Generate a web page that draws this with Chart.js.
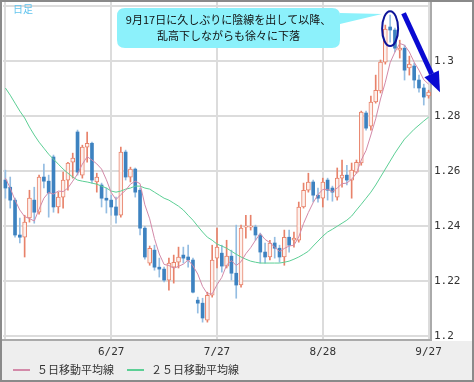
<!DOCTYPE html>
<html><head><meta charset="utf-8">
<script src="https://cdn.jsdelivr.net/npm/chart.js@4.4.0/dist/chart.umd.min.js"></script>
<style>html,body{margin:0;padding:0;background:#fff;overflow:hidden}#wrap{width:474px;height:382px;position:relative}</style>
</head><body><div id="wrap"><canvas id="c" width="474" height="382"></canvas></div>
<script>
const dates = ['5/28','5/29','5/30','5/31','6/1','6/4','6/5','6/6','6/7','6/8','6/11','6/12','6/13','6/14','6/15','6/18','6/19','6/20','6/21','6/22','6/25','6/26','6/27','6/28','6/29','7/2','7/3','7/4','7/5','7/6','7/9','7/10','7/11','7/12','7/13','7/16','7/17','7/18','7/19','7/20','7/23','7/24','7/25','7/26','7/27','7/30','7/31','8/1','8/2','8/3','8/6','8/7','8/8','8/9','8/10','8/13','8/14','8/15','8/16','8/17','8/20','8/21','8/22','8/23','8/24','8/27','8/28','8/29','8/30','8/31','9/3','9/4','9/5','9/6','9/7','9/10','9/11','9/12','9/13','9/14','9/17','9/18','9/19','9/20','9/21','9/24','9/25','9/26','9/27'];
const open = [1.2567,1.2541,1.2494,1.2367,1.2359,1.2429,1.2494,1.2450,1.2578,1.2563,
1.2651,1.2469,1.2505,1.2567,1.2632,1.2742,1.2585,1.2687,1.2701,1.2560,
1.2549,1.2501,1.2494,1.2469,1.2439,1.2669,1.2578,1.2607,1.2530,1.2392,
1.2265,1.2312,1.2250,1.2243,1.2203,1.2250,1.2268,1.2294,1.2287,1.2276,
1.2130,1.2119,1.2057,1.2148,1.2283,1.2301,1.2254,1.2290,1.2228,1.2185,
1.2396,1.2396,1.2396,1.2367,1.2305,1.2287,1.2338,1.2319,1.2287,1.2359,
1.2348,1.2348,1.2469,1.2530,1.2560,1.2512,1.2501,1.2567,1.2538,1.2505,
1.2574,1.2585,1.2567,1.2596,1.2629,1.2811,1.2763,1.2851,1.2891,1.2996,
1.3124,1.3113,1.3040,1.3047,1.2975,1.2982,1.2931,1.2902,1.2873];
const high = [1.2603,1.2578,1.2501,1.2429,1.2439,1.2530,1.2541,1.2585,1.2625,1.2585,
1.2658,1.2523,1.2596,1.2632,1.2665,1.2749,1.2694,1.2742,1.2705,1.2592,
1.2556,1.2538,1.2512,1.2505,1.2687,1.2676,1.2614,1.2611,1.2538,1.2399,
1.2327,1.2330,1.2283,1.2250,1.2283,1.2294,1.2323,1.2323,1.2330,1.2283,
1.2141,1.2137,1.2159,1.2330,1.2392,1.2330,1.2348,1.2312,1.2403,1.2403,
1.2439,1.2439,1.2403,1.2374,1.2338,1.2348,1.2359,1.2330,1.2385,1.2385,
1.2378,1.2487,1.2556,1.2592,1.2567,1.2538,1.2574,1.2574,1.2545,1.2611,
1.2640,1.2621,1.2629,1.2640,1.2818,1.2818,1.2873,1.2949,1.3004,1.3131,
1.3167,1.3120,1.3076,1.3058,1.3018,1.2993,1.2949,1.2916,1.2894];
const low = [1.2501,1.2465,1.2359,1.2338,1.2287,1.2414,1.2410,1.2443,1.2538,1.2432,
1.2450,1.2447,1.2465,1.2530,1.2574,1.2585,1.2574,1.2632,1.2556,1.2523,
1.2469,1.2447,1.2439,1.2410,1.2432,1.2567,1.2560,1.2505,1.2367,1.2279,
1.2257,1.2239,1.2214,1.2196,1.2166,1.2192,1.2247,1.2265,1.2250,1.2156,
1.2083,1.2050,1.2050,1.2141,1.2247,1.2232,1.2247,1.2203,1.2137,1.2177,
1.2356,1.2385,1.2348,1.2265,1.2265,1.2276,1.2283,1.2268,1.2257,1.2305,
1.2323,1.2341,1.2465,1.2523,1.2487,1.2487,1.2469,1.2494,1.2490,1.2494,
1.2541,1.2549,1.2501,1.2592,1.2621,1.2749,1.2749,1.2847,1.2884,1.2989,
1.3069,1.3033,1.3011,1.2931,1.2949,1.2902,1.2887,1.2840,1.2865];
const close = [1.2538,1.2494,1.2367,1.2359,1.2414,1.2501,1.2450,1.2578,1.2563,1.2520,
1.2469,1.2505,1.2567,1.2629,1.2647,1.2596,1.2687,1.2701,1.2567,1.2578,
1.2501,1.2494,1.2469,1.2439,1.2669,1.2578,1.2607,1.2523,1.2392,1.2287,
1.2319,1.2250,1.2243,1.2203,1.2265,1.2268,1.2287,1.2283,1.2276,1.2159,
1.2119,1.2065,1.2148,1.2276,1.2323,1.2254,1.2290,1.2228,1.2185,1.2392,
1.2399,1.2399,1.2367,1.2305,1.2287,1.2338,1.2319,1.2287,1.2359,1.2330,
1.2356,1.2469,1.2530,1.2560,1.2512,1.2501,1.2560,1.2530,1.2523,1.2574,
1.2585,1.2567,1.2603,1.2632,1.2814,1.2756,1.2851,1.2894,1.2996,1.3116,
1.3113,1.3047,1.3047,1.2967,1.2989,1.2931,1.2902,1.2869,1.2887];
const ma5 = [1.2574,1.2538,1.2494,1.2458,1.2434,1.2427,1.2418,1.2461,1.2501,1.2522,
1.2516,1.2527,1.2525,1.2538,1.2563,1.2589,1.2625,1.2652,1.2640,1.2626,
1.2607,1.2568,1.2522,1.2496,1.2514,1.2530,1.2552,1.2563,1.2554,1.2477,
1.2426,1.2354,1.2298,1.2260,1.2256,1.2246,1.2253,1.2261,1.2276,1.2255,
1.2225,1.2180,1.2153,1.2153,1.2186,1.2213,1.2258,1.2274,1.2256,1.2270,
1.2299,1.2321,1.2348,1.2372,1.2351,1.2339,1.2323,1.2307,1.2318,1.2327,
1.2330,1.2360,1.2409,1.2449,1.2485,1.2514,1.2533,1.2533,1.2525,1.2538,
1.2554,1.2556,1.2570,1.2592,1.2640,1.2675,1.2731,1.2790,1.2862,1.2923,
1.2994,1.3033,1.3064,1.3058,1.3033,1.2996,1.2967,1.2932,1.2916];
const ma25 = [1.2902,1.2876,1.2847,1.2818,1.2793,1.2760,1.2731,1.2705,1.2683,1.2661,
1.2643,1.2625,1.2607,1.2592,1.2578,1.2567,1.2563,1.2560,1.2556,1.2552,
1.2545,1.2538,1.2527,1.2523,1.2527,1.2534,1.2538,1.2545,1.2545,1.2538,
1.2534,1.2523,1.2512,1.2501,1.2494,1.2483,1.2472,1.2458,1.2439,1.2421,
1.2399,1.2378,1.2359,1.2348,1.2334,1.2327,1.2319,1.2308,1.2297,1.2287,
1.2279,1.2272,1.2268,1.2265,1.2265,1.2265,1.2265,1.2265,1.2268,1.2272,
1.2279,1.2287,1.2297,1.2308,1.2327,1.2345,1.2363,1.2378,1.2388,1.2399,
1.2410,1.2421,1.2436,1.2458,1.2479,1.2501,1.2523,1.2549,1.2578,1.2607,
1.2636,1.2665,1.2691,1.2716,1.2734,1.2752,1.2767,1.2782,1.2796];
const tickLabels = ['6/27','7/27','8/28','9/27'];
const gridDates = ['5/28','6/27','7/27','8/28','9/27'];
const seriesNames = ['５日移動平均線','２５日移動平均線'];
const noteLines = ['9月17日に久しぶりに陰線を出して以降、','乱高下しながらも徐々に下落'];
const noteDate = '9/17';
const periodLabel = '日足';

const UP = '#e8826a', UP_FILL = '#fdf1ed', DOWN = '#3d82c0', DOWN_WICK = '#94bde2';
const up = i => close[i] >= open[i];
const MONO = '"DejaVu Sans Mono", monospace';
const JP = '"Noto Sans CJK JP", sans-serif';

const bgPlugin = {
  id: 'bg',
  beforeDraw(chart) {
    const {ctx, chartArea} = chart;
    ctx.save();
    ctx.fillStyle = '#ffffff';
    ctx.fillRect(0, 0, chart.width, chart.height);
    ctx.fillStyle = '#eeeeee';
    ctx.fillRect(0, chartArea.bottom + 1, chart.width, chart.height - chartArea.bottom);
    ctx.restore();
  },
  afterDraw(chart) {
    const {ctx} = chart;
    ctx.save();
    // legend for the two moving-average lines
    ctx.font = '11px ' + JP;
    ctx.textAlign = 'left';
    ctx.textBaseline = 'middle';
    const legendX = [13, 127];
    [0, 1].forEach((d, n) => {
      const ds = chart.data.datasets[d];
      const x = legendX[n], y = 370;
      ctx.strokeStyle = ds.borderColor;
      ctx.lineWidth = 2;
      ctx.beginPath();
      ctx.moveTo(x, y);
      ctx.lineTo(x + 17, y);
      ctx.stroke();
      ctx.fillStyle = '#333';
      ctx.fillText(ds.label, x + 24, y);
    });
    ctx.strokeStyle = '#8a8a8a';
    ctx.lineWidth = 2;
    ctx.strokeRect(1, 1, chart.width - 2, chart.height - 2);
    ctx.restore();
  }
};

const notePlugin = {
  id: 'note',
  afterDraw(chart) {
    const {ctx} = chart;
    const xs = chart.scales.x, ys = chart.scales.y;
    ctx.save();
    ctx.fillStyle = '#62c4ee';
    ctx.font = '10px ' + JP;
    ctx.textBaseline = 'middle';
    ctx.textAlign = 'left';
    ctx.fillText(periodLabel, 13, 9);
    const bx = 117, by = 8, bw = 223, bh = 40, r = 8;
    ctx.fillStyle = '#8cf1fb';
    ctx.beginPath();
    ctx.moveTo(bx + r, by);
    ctx.lineTo(bx + bw - r, by);
    ctx.quadraticCurveTo(bx + bw, by, bx + bw, by + r);
    ctx.lineTo(bx + bw, by + 5);
    ctx.lineTo(382, 14);
    ctx.lineTo(bx + bw, by + 16);
    ctx.lineTo(bx + bw, by + bh - r);
    ctx.quadraticCurveTo(bx + bw, by + bh, bx + bw - r, by + bh);
    ctx.lineTo(bx + r, by + bh);
    ctx.quadraticCurveTo(bx, by + bh, bx, by + bh - r);
    ctx.lineTo(bx, by + r);
    ctx.quadraticCurveTo(bx, by, bx + r, by);
    ctx.closePath();
    ctx.fill();
    ctx.fillStyle = '#111';
    ctx.font = '11px ' + JP;
    ctx.textAlign = 'center';
    ctx.fillText(noteLines[0], bx + bw / 2, 20);
    ctx.fillText(noteLines[1], bx + bw / 2, 36);
    const k = dates.indexOf(noteDate);
    const cx = xs.getPixelForValue(k);
    const yh = ys.getPixelForValue(high[k]), yl = ys.getPixelForValue(low[k]);
    ctx.strokeStyle = '#0c1499';
    ctx.lineWidth = 2;
    ctx.beginPath();
    ctx.ellipse(cx, (yh + yl) / 2, 8, (yl - yh) / 2 + 4, 0, 0, Math.PI * 2);
    ctx.stroke();
    const x0 = xs.getPixelForValue(k + 3) - 1, y0 = ys.getPixelForValue(high[k]) - 2;
    const x1 = chart.chartArea.right + 9, y1 = ys.getPixelForValue(close[close.length - 1]);
    const ang = Math.atan2(y1 - y0, x1 - x0);
    const hl = 20, hw = 8;
    const bxh = x1 - hl * Math.cos(ang), byh = y1 - hl * Math.sin(ang);
    ctx.strokeStyle = '#0a0ad2';
    ctx.fillStyle = '#0a0ad2';
    ctx.lineWidth = 5;
    ctx.beginPath();
    ctx.moveTo(x0, y0);
    ctx.lineTo(bxh, byh);
    ctx.stroke();
    ctx.beginPath();
    ctx.moveTo(x1, y1);
    ctx.lineTo(bxh + hw * Math.sin(ang), byh - hw * Math.cos(ang));
    ctx.lineTo(bxh - hw * Math.sin(ang), byh + hw * Math.cos(ang));
    ctx.closePath();
    ctx.fill();
    ctx.restore();
  }
};

new Chart(document.getElementById('c'), {
  type: 'bar',
  data: {
    labels: dates,
    datasets: [
      {type: 'line', label: seriesNames[0], data: ma5, borderColor: '#d38aa9', backgroundColor: '#d38aa9', borderWidth: 1, pointRadius: 0, tension: 0, order: 0},
      {type: 'line', label: seriesNames[1], data: ma25, borderColor: '#5ccf95', backgroundColor: '#5ccf95', borderWidth: 1, pointRadius: 0, tension: 0, order: 0},
      {label: 'up', data: open.map((o, i) => up(i) ? [o, close[i]] : null), backgroundColor: UP_FILL, borderColor: UP, borderWidth: 1, borderSkipped: false, barThickness: 4, minBarLength: 1, grouped: false, order: 1},
      {label: 'down', data: open.map((o, i) => up(i) ? null : [o, close[i]]), backgroundColor: DOWN, borderWidth: 0, barThickness: 3, minBarLength: 1, grouped: false, order: 1},
      {label: 'wick', data: low.map((l, i) => [l, high[i]]), backgroundColor: low.map((l, i) => up(i) ? UP : DOWN_WICK), barThickness: 1, grouped: false, order: 2}
    ]
  },
  options: {
    responsive: false,
    animation: false,
    devicePixelRatio: 1,
    layout: {padding: {left: 3, top: 2, right: 2, bottom: 0}},
    plugins: {
      tooltip: {enabled: false},
      legend: {display: false}
    },
    scales: {
      x: {
        offset: true,
        grid: {offset: false, drawTicks: false, lineWidth: 2,
          color: c => gridDates.includes(dates[c.index]) ? '#dcdcdc' : 'rgba(0,0,0,0)'},
        border: {display: true, color: '#aaaaaa', width: 2},
        ticks: {autoSkip: false, maxRotation: 0, minRotation: 0, padding: 6, color: '#333',
          font: {family: MONO, size: 11},
          callback: (v, i) => tickLabels.includes(dates[i]) ? dates[i] : ''},
        afterFit: s => { s.height = 42; s.paddingLeft = 0; s.paddingRight = 0; }
      },
      y: {
        position: 'right', min: 1.1985, max: 1.3215,
        grid: {drawTicks: false, lineWidth: 2, color: '#dcdcdc'},
        border: {display: true, color: '#aaaaaa', width: 2},
        ticks: {stepSize: 0.02, includeBounds: false, padding: 3, color: '#333',
          font: {family: MONO, size: 11},
          callback: v => v > 1.31 ? '' : String(+v.toFixed(2))},
        afterFit: s => { s.width = 41; s.paddingTop = 0; s.paddingBottom = 0; }
      }
    }
  },
  plugins: [bgPlugin, notePlugin]
});
</script>
</body></html>
